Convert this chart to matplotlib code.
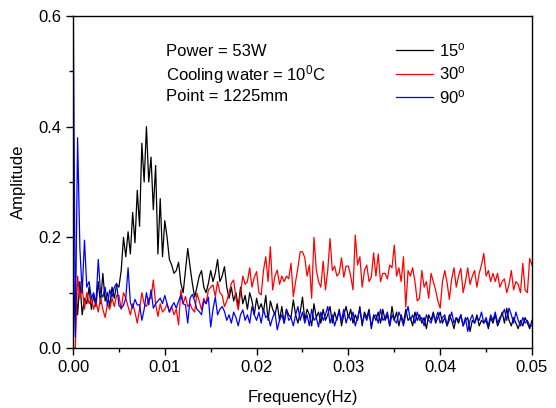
import numpy as np
import matplotlib
matplotlib.use('Agg')
import matplotlib.pyplot as plt
from matplotlib.ticker import MultipleLocator, FormatStrFormatter

plt.rcParams['font.family'] = ['Liberation Sans', 'DejaVu Sans']
plt.rcParams['font.size'] = 12
plt.rcParams['mathtext.default'] = 'regular'

# frequency grid (Hz), step 0.00025
freq = np.linspace(0.0, 0.05, 201)

amp_15 = [
    0.0, 0.12, 0.06, 0.12, 0.06, 0.09, 0.08, 0.11, 0.07, 0.095,
    0.075, 0.12, 0.08, 0.135, 0.085, 0.10, 0.075, 0.11, 0.09, 0.115,
    0.11, 0.14, 0.20, 0.165, 0.21, 0.17, 0.245, 0.19, 0.285, 0.22,
    0.37, 0.30, 0.40, 0.30, 0.345, 0.25, 0.33, 0.17, 0.27, 0.165,
    0.23, 0.20, 0.16, 0.15, 0.135, 0.14, 0.155, 0.117, 0.10, 0.14,
    0.18, 0.147, 0.117, 0.092, 0.11, 0.13, 0.14, 0.11, 0.10, 0.117,
    0.14, 0.12, 0.135, 0.16, 0.12, 0.13, 0.147, 0.11, 0.09, 0.11,
    0.085, 0.10, 0.075, 0.11, 0.08, 0.095, 0.07, 0.10, 0.085, 0.06,
    0.09, 0.07, 0.08, 0.065, 0.095, 0.05, 0.085, 0.07, 0.06, 0.08,
    0.05, 0.075, 0.045, 0.07, 0.06, 0.055, 0.087, 0.06, 0.045, 0.065,
    0.092, 0.05, 0.07, 0.06, 0.04, 0.08, 0.055, 0.065, 0.045, 0.07,
    0.05, 0.06, 0.075, 0.045, 0.065, 0.05, 0.07, 0.04, 0.06, 0.075,
    0.055, 0.07, 0.045, 0.06, 0.05, 0.075, 0.04, 0.065, 0.055, 0.07,
    0.035, 0.06, 0.05, 0.065, 0.045, 0.07, 0.05, 0.06, 0.04, 0.075,
    0.05, 0.065, 0.04, 0.06, 0.045, 0.07, 0.05, 0.055, 0.04, 0.065,
    0.05, 0.06, 0.045, 0.055, 0.035, 0.06, 0.05, 0.065, 0.045, 0.055,
    0.065, 0.045, 0.055, 0.04, 0.06, 0.05, 0.035, 0.055, 0.045, 0.06,
    0.04, 0.05, 0.055, 0.03, 0.05, 0.045, 0.06, 0.04, 0.05, 0.045,
    0.05, 0.035, 0.055, 0.045, 0.06, 0.04, 0.05, 0.065, 0.045, 0.072,
    0.05, 0.04, 0.055, 0.045, 0.035, 0.05, 0.04, 0.055, 0.045, 0.035,
    0.05,
]

amp_30 = [
    0.0, 0.0, 0.13, 0.09, 0.11, 0.07, 0.10, 0.08, 0.09, 0.07,
    0.085, 0.065, 0.09, 0.07, 0.055, 0.08, 0.07, 0.09, 0.075, 0.095,
    0.095, 0.07, 0.10, 0.09, 0.075, 0.06, 0.08, 0.065, 0.045, 0.07,
    0.10, 0.08, 0.075, 0.09, 0.09, 0.123, 0.08, 0.057, 0.08, 0.065,
    0.07, 0.08, 0.065, 0.075, 0.06, 0.07, 0.042, 0.105, 0.08, 0.093,
    0.075, 0.08, 0.07, 0.065, 0.099, 0.085, 0.069, 0.09, 0.08, 0.105,
    0.11, 0.114, 0.093, 0.12, 0.10, 0.095, 0.075, 0.085, 0.10, 0.117,
    0.123, 0.09, 0.069, 0.10, 0.13, 0.115, 0.12, 0.145, 0.11, 0.128,
    0.138, 0.10, 0.096, 0.14, 0.165, 0.12, 0.183, 0.105, 0.13, 0.141,
    0.115, 0.13, 0.12, 0.13, 0.125, 0.153, 0.093, 0.12, 0.145, 0.174,
    0.174, 0.163, 0.13, 0.15, 0.09, 0.20, 0.142, 0.12, 0.11, 0.157,
    0.105, 0.14, 0.198, 0.14, 0.148, 0.13, 0.135, 0.163, 0.128, 0.148,
    0.148, 0.13, 0.105, 0.204, 0.15, 0.165, 0.11, 0.14, 0.15, 0.12,
    0.128, 0.172, 0.13, 0.17, 0.12, 0.135, 0.135, 0.125, 0.15, 0.145,
    0.186, 0.13, 0.145, 0.12, 0.165, 0.074, 0.14, 0.13, 0.145, 0.12,
    0.085, 0.09, 0.14, 0.11, 0.12, 0.09, 0.135, 0.12, 0.105, 0.085,
    0.072, 0.12, 0.14, 0.118, 0.088, 0.125, 0.145, 0.11, 0.13, 0.144,
    0.10, 0.12, 0.145, 0.115, 0.13, 0.14, 0.11, 0.135, 0.15, 0.171,
    0.13, 0.14, 0.12, 0.135, 0.12, 0.135, 0.11, 0.12, 0.125, 0.10,
    0.115, 0.14, 0.105, 0.12, 0.115, 0.10, 0.153, 0.105, 0.10, 0.162,
    0.15,
]

amp_90 = [
    0.70, 0.02, 0.38, 0.18, 0.10, 0.195, 0.11, 0.12, 0.09, 0.10,
    0.08, 0.16, 0.10, 0.092, 0.11, 0.077, 0.105, 0.092, 0.11, 0.117,
    0.077, 0.072, 0.077, 0.09, 0.145, 0.082, 0.072, 0.088, 0.078, 0.078,
    0.05, 0.07, 0.10, 0.078, 0.105, 0.072, 0.08, 0.085, 0.09, 0.08,
    0.095, 0.08, 0.065, 0.075, 0.082, 0.072, 0.085, 0.095, 0.08, 0.078,
    0.045, 0.09, 0.097, 0.085, 0.07, 0.066, 0.06, 0.085, 0.08, 0.092,
    0.038, 0.07, 0.092, 0.06, 0.07, 0.075, 0.066, 0.05, 0.06, 0.045,
    0.065, 0.055, 0.04, 0.06, 0.069, 0.05, 0.06, 0.045, 0.075, 0.06,
    0.05, 0.065, 0.045, 0.07, 0.055, 0.06, 0.04, 0.055, 0.065, 0.033,
    0.05, 0.06, 0.045, 0.07, 0.05, 0.055, 0.04, 0.06, 0.075, 0.05,
    0.065, 0.045, 0.06, 0.04, 0.07, 0.05, 0.055, 0.038, 0.065, 0.05,
    0.06, 0.075, 0.045, 0.06, 0.04, 0.055, 0.065, 0.05, 0.07, 0.045,
    0.06, 0.05, 0.065, 0.04, 0.055, 0.07, 0.045, 0.06, 0.05, 0.065,
    0.04, 0.055, 0.06, 0.045, 0.07, 0.05, 0.055, 0.065, 0.04, 0.06,
    0.05, 0.045, 0.065, 0.055, 0.04, 0.06, 0.075, 0.05, 0.06, 0.045,
    0.065, 0.05, 0.055, 0.04, 0.06, 0.05, 0.045, 0.06, 0.05, 0.065,
    0.045, 0.055, 0.06, 0.04, 0.05, 0.065, 0.045, 0.055, 0.05, 0.06,
    0.04, 0.055, 0.03, 0.05, 0.06, 0.045, 0.055, 0.05, 0.065, 0.045,
    0.055, 0.04, 0.06, 0.05, 0.065, 0.045, 0.055, 0.06, 0.07, 0.05,
    0.072, 0.06, 0.045, 0.065, 0.05, 0.04, 0.055, 0.045, 0.05, 0.04,
    0.04,
]

labels = ['15$^o$', '30$^o$', '90$^o$']
notes = ['Power = 53W', 'Cooling water = 10$^0$C', 'Point = 1225mm']

fig = plt.figure(figsize=(5.56, 4.08), dpi=100)
ax = fig.add_axes([0.1313, 0.147, 0.8255, 0.8138])

ax.plot(freq, amp_15, color='black', lw=0.9, label=labels[0])
ax.plot(freq, amp_30, color='red', lw=0.9, label=labels[1])
ax.plot(freq, amp_90, color='blue', lw=0.9, label=labels[2])

ax.set_xlim(0, 0.05)
ax.set_ylim(0, 0.6)
ax.xaxis.set_major_locator(MultipleLocator(0.01))
ax.xaxis.set_minor_locator(MultipleLocator(0.005))
ax.yaxis.set_major_locator(MultipleLocator(0.2))
ax.yaxis.set_minor_locator(MultipleLocator(0.1))
ax.xaxis.set_major_formatter(FormatStrFormatter('%.2f'))
ax.yaxis.set_major_formatter(FormatStrFormatter('%.1f'))
ax.tick_params(which='both', direction='out', top=False, right=False, width=1)
ax.tick_params(which='major', length=5)
ax.tick_params(which='minor', length=3)
for s in ax.spines.values():
    s.set_linewidth(1)

ax.set_xlabel('Frequency(Hz)', labelpad=11)
ax.set_ylabel('Amplitude', labelpad=9)

for k, t in enumerate(notes):
    ax.text(0.203, 0.892 - k * 0.067, t, transform=ax.transAxes, va='center')

ax.legend(loc='upper left', bbox_to_anchor=(0.689, 0.945), frameon=False,
          handlelength=2.2, handletextpad=0.4, labelspacing=0.33,
          borderaxespad=0)

fig.savefig('out.png', dpi=100)
